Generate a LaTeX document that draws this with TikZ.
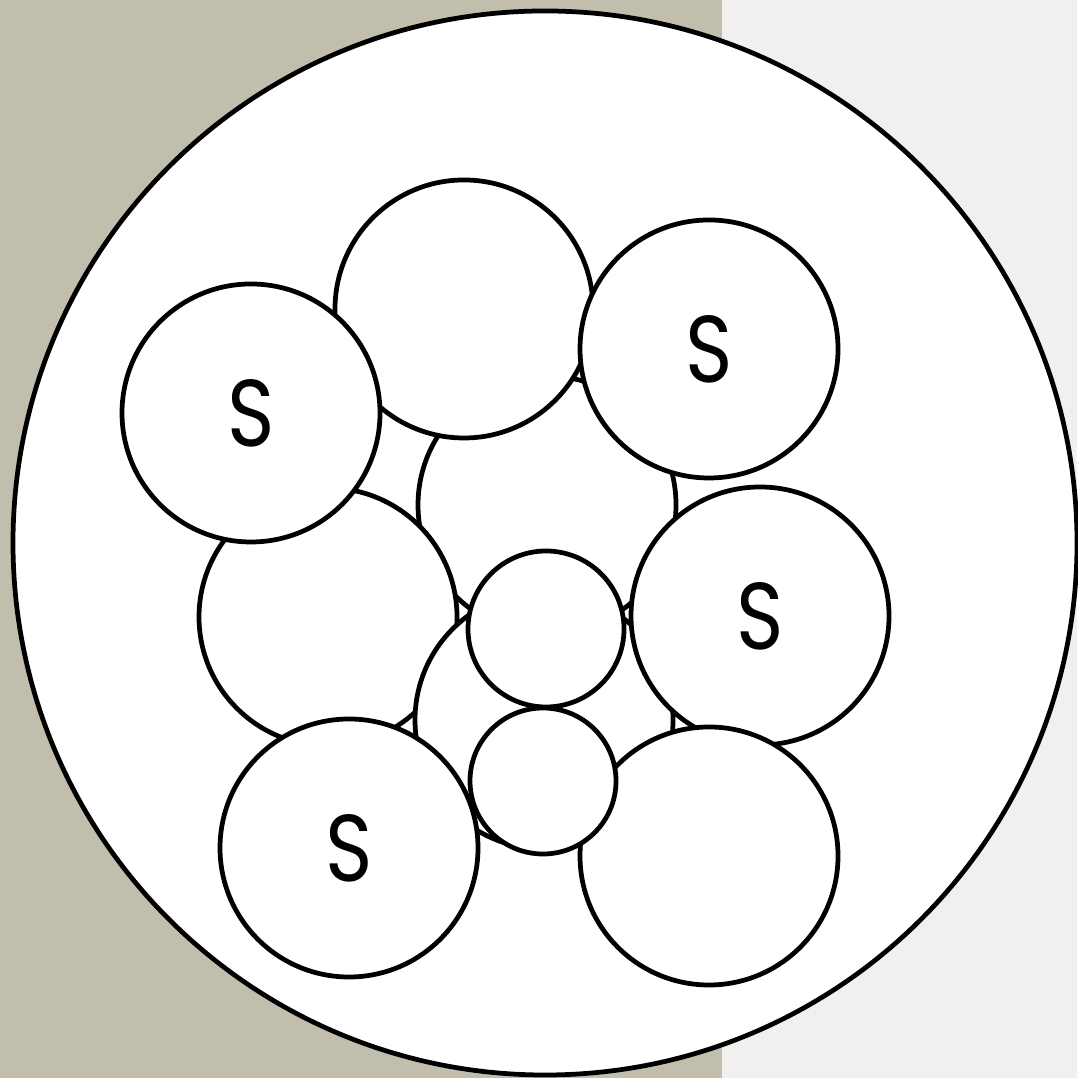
\documentclass[tikz,border=0pt]{standalone}
\usepackage{fontspec}
\setmainfont{Poppins}
\usepackage{tikz}
\usetikzlibrary{positioning}
\definecolor{tanbg}{RGB}{193,190,174}
\definecolor{lightbg}{RGB}{241,240,238}

\begin{document}
\begin{tikzpicture}[
  font=\fontsize{27}{27}\selectfont,
  strand/.style={draw, circle, line width=1.35pt, fill=white,
                 minimum size=2.58cm, inner sep=0pt},
  core/.style={strand, minimum size=1.56cm},
  corelow/.style={strand, minimum size=1.46cm}
]
\fill[tanbg] (0,0) rectangle (7.22,10.78);
\fill[lightbg] (7.22,0) rectangle (10.77,10.78);
\useasboundingbox (0,0) rectangle (10.77,10.78);

\node[strand, minimum size=10.64cm] (jacket) at (5.45, 5.35) {};

% hidden strands first, then the outer ring
\node[strand] (midup)  at (5.47, 5.73) {};
\node[strand] (left)   at (3.28, 4.61) {};
\node[strand] (midlow) at (5.44, 3.58) {};
\node[strand] (top)    at (4.64, 7.69) {};
\node[strand] (sne)    at (7.09, 7.29) {\scalebox{0.85}[1]{S}};
\node[strand] (snw)    at (2.51, 6.65) {\scalebox{0.85}[1]{S}};
\node[strand] (se)     at (7.60, 4.62) {\scalebox{0.85}[1]{S}};
\node[strand] (bot)    at (7.09, 2.22) {};
\node[strand] (ssw)    at (3.49, 2.30) {\scalebox{0.85}[1]{S}};

\node[core]    (c1) at (5.46, 4.49) {};
\node[corelow] (c2) at (5.43, 2.97) {};
\end{tikzpicture}
\end{document}
